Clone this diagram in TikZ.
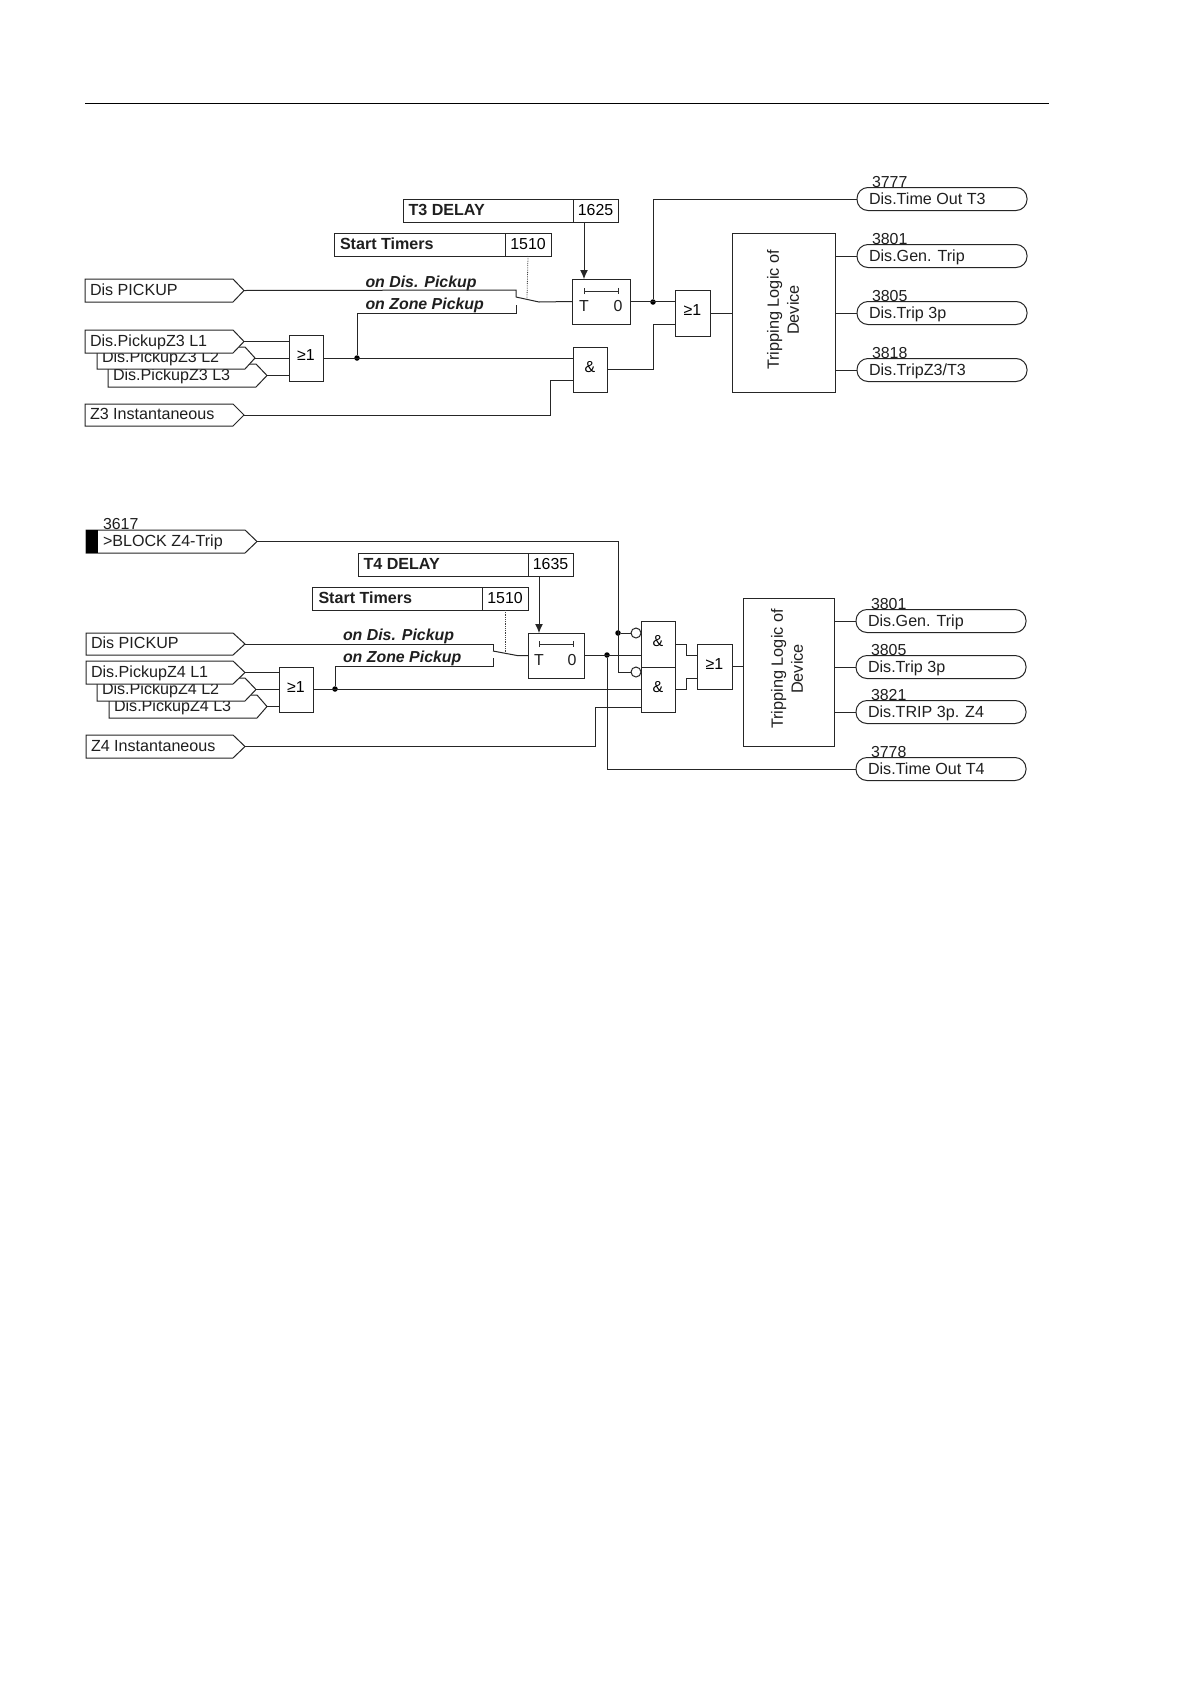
\documentclass[tikz,border=0pt]{standalone}
\usepackage{fontspec}
\setmainfont{Liberation Sans}
\usetikzlibrary{arrows.meta}
\newcommand\fa{\fontsize{16.1}{18}\selectfont}
\newcommand\fb{\fontsize{15.9}{18}\selectfont}
\newcommand\fc{\fontsize{16.1}{18}\selectfont\bfseries}
\newcommand\sig[8][5]{%
  \draw[wire,fill=white] (#3,#4) -- (#6,#4) -- (#7,{(#4+#5)/2}) -- (#6,#5) -- (#3,#5) -- cycle;
  \coordinate (#2) at (#7,{(#4+#5)/2});
  \node[txt,font=\fa,anchor=west] (#2txt) at ({#3+#1},{(#4+#5)/2-1}) {#8};}
\newcommand\blk[7][]{%
  \node[blockbox,minimum width={(#5-#3)*1pt},minimum height={(#6-#4)*1pt},#1] (#2) at ({(#3+#5)/2},{(#4+#6)/2}) {#7};}
\newcommand\pill[4]{% name, y, number, text
  \node[pillbox,minimum width={(\pillr-\pilll)*1pt}] (#1) at ({(\pilll+\pillr)/2},#2) {};
  \node[txt,font=\fa,anchor=west] (#1txt) at ({\pilll+12},#2) {#4};
  \node[txt,font=\fb,anchor=west] (#1num) at ({\pilll+15},{#2-17}) {#3};}
\tikzset{
  wire/.style={line width=1pt,draw=black!85},
  blockbox/.style={wire,rectangle,fill=white,inner sep=0pt,outer sep=0pt,font=\fb,text height=11pt,text depth=1pt},
  gatebox/.style={text depth=6pt},
  pillbox/.style={wire,rectangle,rounded corners=11pt,fill=white,minimum height=23pt,inner sep=0pt,outer sep=0pt},
  txt/.style={inner sep=0pt,outer sep=0pt,text height=11.5pt,text depth=0pt,text=black!88},
  conn/.style={wire},
  dotnode/.style={circle,fill=black,inner sep=0pt,minimum size=5.5pt},
  inv/.style={wire,circle,fill=white,inner sep=0pt,outer sep=0pt,minimum size=10pt},
  arr/.style={wire,-{Latex[length=9pt,width=8pt]}},
  dash3/.style={line width=0.8pt,draw=black!75,densely dotted},
  modetxt/.style={txt,font=\fontsize{15.9}{18}\selectfont\bfseries\itshape,anchor=west},
  ruleline/.style={line width=1pt,draw=black},
  logictxt/.style={inner sep=0pt,font=\fontsize{16.3}{20}\selectfont,align=center,rotate=90,text=black!88},
  bartick/.style={line width=0.8pt,draw=black!82,|-|}
}
\begin{document}
\begin{tikzpicture}[x=1pt,y=-1pt]
\useasboundingbox (0,0) rectangle (1190,1684);
\fill[white] (0,0) rectangle (1190,1684);
\coordinate (ruleL) at (85,103.5);
\coordinate (ruleR) at (1049,103.5);
\draw[ruleline] (ruleL) -- (ruleR);

% ===== Upper diagram =====
\blk{t3name}{403}{199}{573}{222}{}
\blk{t3num}{573}{199}{618}{222}{1625}
\node[txt,font=\fc,anchor=west] (t3lbl) at (408.5,209.5) {T3 DELAY};
\blk{st3name}{334}{233}{505}{256}{}
\blk{st3num}{505}{233}{551}{256}{1510}
\node[txt,font=\fc,anchor=west] (st3lbl) at (340,244) {Start Timers};

\sig{pick3}{85}{279}{302}{233}{244}{Dis PICKUP}
\sig{l33}{108}{364}{387}{256}{267}{Dis.PickupZ3 L3}
\sig{l32}{97}{347}{369}{245}{255}{Dis.PickupZ3 L2}
\sig{l31}{85}{330}{353}{233}{244}{Dis.PickupZ3 L1}
\sig{z3}{85}{404}{426}{233}{244}{Z3 Instantaneous}

\blk[gatebox]{or3a}{289}{335}{323}{381}{≥1}
\blk[gatebox]{and3}{573}{347}{607}{392}{\&}
\blk{T3}{572}{279}{630}{324}{}
\blk[gatebox]{or3b}{675}{290}{710}{336}{≥1}
\blk{trip3}{732}{233}{835}{392}{}
\node[logictxt] (trip3txt) at (783,310) {Tripping Logic of\\Device};
\node[txt,font=\fb] (T3t) at (584,306) {T};
\node[txt,font=\fb] (T3o) at (618,306) {0};
\coordinate (bar3l) at (584,291);
\coordinate (bar3r) at (619,291);
\draw[bartick] (bar3l) -- (bar3r);

\def\pilll{857}\def\pillr{1027}
\pill{o31}{199}{3777}{Dis.Time Out T3}
\pill{o32}{256}{3801}{Dis.Gen. Trip}
\pill{o33}{313}{3805}{Dis.Trip 3p}
\pill{o34}{370}{3818}{Dis.TripZ3/T3}

\node[dotnode] (d3a) at (357,358) {};
\node[dotnode] (d3b) at (653,302) {};
\coordinate (sw3a) at (516,290);
\coordinate (sw3t) at (516,297);
\coordinate (sw3k) at (539,302);
\coordinate (sw3c) at (516,305);
\coordinate (sw3d) at (516,313);
\coordinate (dash3e) at (527,298);
\coordinate (z3c) at (550,380);
\coordinate (or3bl) at (653,324);
\coordinate (and3o) at (653,370);

\draw[conn] (pick3) -- (sw3a) -- (sw3t);
\draw[conn] (sw3t) -- (sw3k) -- (T3.west);
\draw[conn] (sw3c) -- (sw3d) -| (d3a);
\draw[dash3] (st3num.south) -- (dash3e);
\draw[conn] (l31) -- (or3a.west |- l31);
\draw[conn] (l32) -- (or3a.west |- l32);
\draw[conn] (l33) -- (or3a.west |- l33);
\draw[conn] (or3a.east) -- (and3.west |- or3a.east);
\draw[conn] (z3) -| (z3c) -- (and3.west |- z3c);
\draw[arr] (t3num.south -| T3t) -- (T3.north -| T3t);
\draw[conn] (T3.east) -- (or3b.west |- T3.east);
\draw[conn] (d3b) |- (o31.west);
\draw[conn] (and3.east) -| (or3bl) -- (or3b.west |- or3bl);
\draw[conn] (or3b.east) -- (trip3.west |- or3b.east);
\draw[conn] (trip3.east |- o32) -- (o32.west);
\draw[conn] (trip3.east |- o33) -- (o33.west);
\draw[conn] (trip3.east |- o34) -- (o34.west);
\node[modetxt] (m31) at (365.5,282) {on Dis. Pickup};
\node[modetxt] (m32) at (365.5,303.5) {on Zone Pickup};

% ===== Lower diagram =====
\sig[17]{block}{86}{530}{553}{245}{257}{>BLOCK Z4-Trip}
\fill[black] (86,530) rectangle (98,553);
\node[txt,font=\fb,anchor=west] (blocknum) at (103,524) {3617};

\blk{t4name}{358}{553}{528}{576}{}
\blk{t4num}{528}{553}{573}{576}{1635}
\node[txt,font=\fc,anchor=west] (t4lbl) at (363.5,563.5) {T4 DELAY};
\blk{st4name}{312.5}{587}{482}{610}{}
\blk{st4num}{482}{587}{528}{610}{1510}
\node[txt,font=\fc,anchor=west] (st4lbl) at (318.5,597.5) {Start Timers};

\sig{pick4}{86}{633}{655}{233}{245}{Dis PICKUP}
\sig{l43}{109}{695}{718}{257}{267}{Dis.PickupZ4 L3}
\sig{l42}{97}{678}{701}{245}{256}{Dis.PickupZ4 L2}
\sig{l41}{86}{661}{684}{233}{245}{Dis.PickupZ4 L1}
\sig{z4}{86}{735}{758}{233}{245}{Z4 Instantaneous}

\blk[gatebox]{or4a}{279}{667}{313}{712}{≥1}
\blk{T4}{528}{633}{584}{678}{}
\node[txt,font=\fb] (T4t) at (539,660) {T};
\node[txt,font=\fb] (T4o) at (572,660) {0};
\coordinate (bar4l) at (539,644);
\coordinate (bar4r) at (574,644);
\draw[bartick] (bar4l) -- (bar4r);
\blk[gatebox]{and4a}{641}{621}{675}{667}{\&}
\blk[gatebox]{and4b}{641}{667}{675}{712}{\&}
\blk[gatebox]{or4b}{697}{644}{732}{689}{≥1}
\blk{trip4}{743}{598}{834}{746}{}
\node[logictxt] (trip4txt) at (787,669) {Tripping Logic of\\Device};
\node[inv] (c41) at (636,633) {};
\node[inv] (c42) at (636,672) {};

\def\pilll{856}\def\pillr{1026}
\pill{o41}{621}{3801}{Dis.Gen. Trip}
\pill{o42}{667}{3805}{Dis.Trip 3p}
\pill{o43}{712}{3821}{Dis.TRIP 3p. Z4}
\pill{o44}{769}{3778}{Dis.Time Out T4}

\node[dotnode] (d4a) at (335,689) {};
\node[dotnode] (d4b) at (607,655) {};
\node[dotnode] (d4c) at (618,633) {};
\coordinate (sw4a) at (493,644);
\coordinate (sw4t) at (493,651);
\coordinate (sw4k) at (517,655.5);
\coordinate (sw4c) at (493,658);
\coordinate (sw4d) at (493,666);
\coordinate (dash4e) at (505,652);
\coordinate (j4) at (618,672);
\coordinate (z4c) at (595,707);
\coordinate (j5) at (697,678);

\draw[conn] (pick4) -- (sw4a) -- (sw4t);
\draw[conn] (sw4t) -- (sw4k) -- (T4.west);
\draw[conn] (sw4c) -- (sw4d) -| (d4a);
\draw[dash3] (st4num.south) -- (dash4e);
\draw[conn] (l41) -- (or4a.west |- l41);
\draw[conn] (l42) -- (or4a.west |- l42);
\draw[conn] (l43) -- (or4a.west |- l43);
\draw[conn] (or4a.east) -- (and4b.west |- or4a.east);
\draw[conn] (z4) -| (z4c) -- (and4b.west |- z4c);
\draw[arr] (t4num.south -| T4t) -- (T4.north -| T4t);
\draw[conn] (block) -| (j4) -- (c42.west);
\draw[conn] (d4c) -- (c41.west);
\draw[conn] (T4.east) -- (and4a.west |- T4.east);
\draw[conn] (d4b) |- (o44.west);
\draw[conn] (and4a.east) -- ++(11,0) |- (or4b.west |- T4.east);
\draw[conn] (and4b.east) -- ++(11,0) |- (or4b.west |- j5);
\draw[conn] (or4b.east) -- (trip4.west |- or4b.east);
\draw[conn] (trip4.east |- o41) -- (o41.west);
\draw[conn] (trip4.east |- o42) -- (o42.west);
\draw[conn] (trip4.east |- o43) -- (o43.west);
\node[modetxt] (m41) at (343,635) {on Dis. Pickup};
\node[modetxt] (m42) at (343,657) {on Zone Pickup};
\end{tikzpicture}
\end{document}
